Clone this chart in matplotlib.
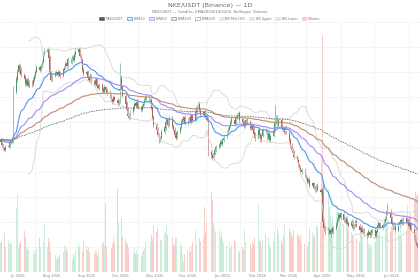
import numpy as np
import pandas as pd
import matplotlib
matplotlib.use("Agg")
import matplotlib.pyplot as plt
import matplotlib.dates as mdates
import matplotlib.patches as mpatches

# daily closes (USDT), one per business day from 2025-06-16
closes = [
    62.0, 61.0, 60.4, 60.0, 60.6, 60.8, 61.4, 61.8, 62.0, 71.6,
    74.0, 75.6, 76.8, 76.0, 75.0, 74.4, 73.2, 74.0, 72.8, 73.6,
    73.0, 74.0, 74.8, 75.6, 76.4, 76.0, 76.8, 77.6, 79.0, 79.6,
    80.0, 78.4, 75.6, 74.0, 74.8, 75.2, 75.6, 75.0, 75.4, 74.8,
    76.0, 76.4, 77.2, 76.8, 78.0, 77.6, 78.4, 78.0, 79.0, 79.6,
    80.0, 78.8, 78.0, 76.0, 75.2, 75.6, 74.4, 74.0, 74.8, 73.6,
    73.2, 74.0, 72.8, 72.4, 73.0, 72.0, 71.6, 72.4, 72.0, 71.4,
    70.8, 70.0, 69.6, 70.4, 70.0, 69.4, 69.8, 74.4, 72.4, 70.8,
    69.2, 68.0, 66.8, 66.4, 67.6, 68.4, 69.2, 68.8, 69.6, 68.4,
    68.0, 68.8, 69.2, 70.0, 70.4, 69.6, 70.0, 68.4, 66.4, 65.0,
    64.0, 63.0, 62.0, 62.4, 63.6, 64.4, 65.6, 66.0, 65.0, 66.4,
    64.8, 64.0, 63.0, 62.4, 63.6, 64.4, 65.6, 66.0, 66.4, 65.2,
    66.0, 66.4, 65.6, 66.8, 66.0, 67.6, 68.4, 69.2, 68.0, 67.0,
    67.6, 66.8, 66.4, 66.0, 59.6, 59.0, 58.4, 59.2, 60.0, 60.6,
    61.0, 61.6, 61.2, 62.0, 62.4, 63.6, 64.0, 64.8, 65.6, 66.0,
    65.2, 66.4, 66.8, 67.2, 66.0, 65.6, 64.8, 65.2, 66.0, 65.6,
    64.4, 64.8, 64.0, 63.2, 62.4, 64.0, 63.0, 62.0, 62.8, 64.0,
    63.6, 62.4, 63.2, 62.0, 62.8, 64.0, 65.6, 66.4, 65.0, 66.0,
    64.4, 64.0, 63.6, 64.4, 63.4, 62.0, 60.8, 60.0, 59.6, 58.6,
    58.0, 57.0, 56.4, 55.6, 56.0, 54.8, 54.4, 53.6, 54.0, 52.8,
    53.2, 52.4, 52.0, 52.8, 52.0, 51.6, 52.0, 45.6, 44.4, 43.6,
    44.0, 43.2, 44.0, 43.6, 44.4, 45.0, 46.0, 47.0, 46.4, 47.2,
    46.0, 45.6, 46.4, 45.2, 44.8, 45.6, 44.4, 45.0, 45.6, 44.8,
    44.0, 44.4, 43.6, 44.0, 43.2, 42.8, 43.6, 43.0, 43.4, 44.0,
    42.8, 43.6, 44.8, 45.2, 44.4, 45.0, 45.6, 46.4, 47.2, 47.6,
    46.4, 45.2, 44.4, 44.8, 44.0, 45.0, 45.6, 46.0, 45.2, 46.4,
    45.6, 46.0, 44.8, 45.2, 44.0, 42.8, 42.0, 41.2, 40.8,
]
first_open = 61.6

# wick lengths above / below the body, tenths of USDT
wick_up = [
    3, 4, 3, 2, 4, 3, 3, 4, 2, 12, 8, 6, 5, 4, 5, 3, 6, 4, 5, 4,
    4, 5, 3, 4, 5, 3, 6, 4, 6, 8, 6, 4, 5, 3, 4, 5, 3, 4, 5, 3,
    4, 3, 5, 4, 6, 3, 4, 5, 6, 7, 5, 4, 3, 4, 5, 3, 4, 3, 5, 4,
    3, 4, 5, 3, 4, 3, 5, 4, 3, 4, 4, 3, 4, 5, 3, 4, 3, 30, 6, 4,
    3, 4, 3, 5, 4, 3, 4, 3, 5, 4, 3, 4, 3, 4, 5, 3, 4, 3, 4, 5,
    4, 5, 3, 4, 6, 3, 5, 4, 3, 4, 3, 4, 5, 3, 4, 3, 5, 4, 3, 4,
    4, 3, 5, 4, 3, 5, 4, 6, 3, 4, 3, 4, 3, 5, 8, 4, 3, 4, 5, 3,
    4, 3, 5, 4, 3, 4, 5, 3, 4, 5, 3, 4, 5, 3, 4, 3, 4, 5, 3, 4,
    4, 3, 4, 5, 3, 4, 3, 4, 5, 3, 4, 5, 3, 4, 3, 5, 34, 6, 4, 3,
    4, 3, 5, 3, 4, 3, 4, 5, 3, 4, 3, 4, 3, 5, 4, 3, 4, 3, 4, 5,
    3, 4, 3, 4, 5, 3, 4, 12, 6, 4, 5, 3, 4, 5, 3, 6, 4, 5, 3, 4,
    4, 5, 3, 4, 3, 5, 4, 3, 5, 4, 3, 4, 5, 3, 4, 3, 5, 4, 3, 4,
    4, 3, 4, 5, 3, 4, 5, 4, 6, 18, 5, 4, 3, 4, 3, 5, 4, 3, 4, 5,
    4, 3, 5, 4, 3, 4, 3, 4, 3,
]
wick_dn = [
    3, 4, 5, 3, 4, 3, 4, 3, 4, 6, 5, 4, 3, 5, 4, 3, 4, 5, 3, 4,
    4, 3, 5, 4, 3, 4, 3, 5, 4, 3, 4, 6, 5, 3, 4, 3, 5, 4, 3, 4,
    3, 4, 3, 5, 4, 3, 4, 3, 5, 4, 5, 4, 3, 4, 6, 3, 4, 5, 3, 4,
    3, 5, 4, 3, 4, 5, 3, 4, 3, 5, 4, 3, 5, 4, 3, 4, 5, 4, 6, 3,
    4, 5, 3, 4, 3, 5, 4, 3, 4, 3, 5, 3, 4, 3, 4, 3, 5, 4, 6, 5,
    4, 5, 6, 4, 3, 4, 5, 3, 4, 3, 4, 3, 5, 4, 3, 4, 3, 5, 4, 3,
    3, 4, 3, 5, 4, 3, 4, 3, 5, 4, 4, 3, 4, 3, 8, 6, 5, 4, 3, 4,
    5, 4, 3, 4, 5, 3, 4, 3, 5, 4, 3, 4, 3, 5, 4, 3, 4, 5, 3, 4,
    4, 5, 3, 4, 6, 3, 4, 5, 4, 3, 3, 4, 5, 3, 4, 3, 4, 5, 3, 4,
    4, 3, 4, 5, 3, 4, 5, 6, 4, 5, 4, 5, 3, 4, 5, 3, 4, 5, 3, 4,
    4, 3, 5, 4, 3, 4, 5, 8, 6, 5, 5, 4, 6, 3, 4, 5, 3, 4, 3, 5,
    4, 3, 5, 4, 3, 4, 5, 3, 4, 3, 5, 4, 3, 4, 5, 4, 3, 5, 4, 3,
    4, 5, 3, 4, 3, 5, 4, 3, 4, 3, 3, 4, 5, 3, 4, 3, 4, 5, 3, 4,
    4, 3, 4, 5, 3, 4, 5, 4, 5,
]

# daily volume, millions
volumes = [
    5.8, 6.0, 6.0, 7.8, 5.0, 6.4, 5.6, 6.0, 5.6, 48.8,
    12.8, 15.4, 4.8, 5.6, 6.0, 8.2, 7.0, 5.0, 4.4, 5.0,
    4.0, 4.4, 3.6, 4.4, 5.0, 6.8, 5.0, 4.4, 6.0, 9.4,
    5.0, 6.8, 6.0, 4.0, 3.0, 3.4, 2.4, 3.0, 2.8, 3.4,
    4.0, 5.4, 4.4, 5.0, 4.0, 3.0, 2.4, 3.6, 3.0, 4.4,
    5.6, 5.0, 6.0, 4.0, 6.2, 5.2, 4.4, 5.0, 4.0, 4.8,
    3.6, 4.4, 4.0, 3.2, 4.4, 5.6, 6.0, 5.2, 13.8, 5.2,
    6.0, 4.8, 5.6, 7.2, 6.0, 16.8, 10.0, 24.0, 10.8, 7.0,
    6.6, 6.0, 5.6, 4.8, 4.4, 4.0, 4.8, 3.6, 4.4, 3.6,
    3.0, 4.0, 4.4, 4.8, 5.8, 5.2, 6.0, 7.4, 6.6, 9.4,
    8.0, 8.8, 5.4, 6.4, 6.4, 7.6, 8.0, 9.2, 7.4, 6.0,
    6.8, 5.6, 5.2, 6.8, 6.8, 5.8, 5.2, 3.6, 2.0, 3.6,
    4.4, 4.8, 4.0, 5.2, 6.0, 8.4, 5.6, 6.6, 6.8, 6.0,
    7.2, 13.0, 8.0, 10.0, 45.0, 16.0, 14.4, 10.0, 9.0, 8.0,
    8.4, 7.0, 8.0, 6.6, 6.0, 5.2, 5.0, 6.0, 4.8, 5.6,
    6.4, 6.0, 5.4, 4.4, 4.0, 5.0, 4.4, 8.4, 6.0, 5.2,
    5.6, 4.8, 6.0, 5.6, 7.0, 13.8, 6.6, 6.0, 5.0, 6.4,
    7.6, 8.0, 7.0, 5.4, 4.8, 6.0, 8.0, 13.8, 9.0, 7.6,
    6.4, 5.6, 7.2, 9.4, 8.4, 8.8, 8.0, 7.6, 7.0, 8.4,
    7.6, 7.2, 6.6, 7.4, 6.0, 5.6, 6.4, 5.2, 6.0, 8.6,
    8.0, 7.0, 7.6, 9.4, 9.0, 10.0, 23.0, 47.4, 16.2, 12.4,
    16.6, 13.0, 11.4, 10.0, 11.0, 12.0, 13.4, 9.0, 11.6, 10.0,
    9.6, 11.0, 10.4, 9.0, 8.4, 8.0, 7.4, 7.0, 7.4, 6.8,
    6.0, 8.0, 8.8, 7.2, 6.0, 7.0, 5.6, 5.0, 5.6, 4.8,
    6.0, 7.2, 9.4, 7.4, 8.0, 6.8, 8.8, 9.6, 11.6, 10.6,
    8.0, 9.0, 10.0, 8.4, 8.0, 9.2, 7.4, 8.8, 7.0, 8.0,
    8.4, 13.4, 11.0, 10.0, 11.6, 14.4, 16.0, 15.2, 15.6,
]

legend_labels = ["NKE/USDT", "EMA20", "EMA50", "EMA100", "EMA200",
                 "BB Mid (20)", "BB Upper", "BB Lower", "Volume"]

UP, DOWN = "#4f9a6c", "#b0605a"
VOL_UP, VOL_DOWN = "#cdeedb", "#f8cdca"
C_EMA20, C_EMA50, C_EMA100, C_EMA200 = "#4b97f0", "#a88af5", "#c28c6c", "#6f6f6f"
C_BB = "#d6d6d6"

dates = pd.bdate_range("2025-06-16", periods=len(closes))
close = pd.Series(closes, index=dates)
opens = close.shift(1).fillna(first_open)
body_top = np.maximum(opens.values, close.values)
body_bot = np.minimum(opens.values, close.values)
highs = body_top + np.array(wick_up) / 10
lows = body_bot - np.array(wick_dn) / 10
up = close.values >= opens.values

ema = {n: close.ewm(span=n, adjust=False).mean() for n in (20, 50, 100, 200)}
bb_mid = close.rolling(20).mean()
bb_std = close.rolling(20).std(ddof=0)
bb_up = bb_mid + 2 * bb_std
bb_lo = bb_mid - 2 * bb_std

x = mdates.date2num(dates)
jul1 = mdates.date2num(pd.Timestamp("2025-07-01"))

fig = plt.figure(figsize=(4.2, 2.8), dpi=100)
ax_v = fig.add_axes([0, 8 / 280, 1, 250 / 280])
ax_p = ax_v.twinx()
ax_p.patch.set_visible(False)

# volume underneath
ax_v.bar(x, volumes, width=0.8, color=np.where(up, VOL_UP, VOL_DOWN), linewidth=0)
ax_v.set_ylim(0, 50)
ax_v.set_yticks(np.arange(0, 51, 5))
ax_v.grid(axis="y", color="#f1f1f1", lw=0.5)
ax_v.set_axisbelow(True)

# candles
cols = np.where(up, UP, DOWN)
ax_p.vlines(x, lows, highs, colors=cols, lw=0.4)
ax_p.bar(x, np.maximum(body_top - body_bot, 0.12), bottom=body_bot,
         width=0.75, color=cols, linewidth=0)

ax_p.plot(x, bb_up, color=C_BB, lw=0.6)
ax_p.plot(x, bb_lo, color=C_BB, lw=0.6)
ax_p.plot(x, bb_mid, color="#ececec", lw=0.5)
ax_p.plot(x, ema[20], color=C_EMA20, lw=0.8)
ax_p.plot(x, ema[50], color=C_EMA50, lw=0.8)
ax_p.plot(x, ema[100], color=C_EMA100, lw=0.8)
ax_p.plot(x, ema[200], color=C_EMA200, lw=0.6, ls=(0, (2, 1.2)))
ax_p.set_ylim(35.5, 85.5)

for a in (ax_v, ax_p):
    a.set_xlim(jul1 - 15.7, jul1 + 361.3)
    for s in a.spines.values():
        s.set_visible(False)
    a.tick_params(axis="y", left=False, right=False, labelleft=False, labelright=False)

months = pd.date_range("2025-07-01", "2026-06-01", freq="MS")
ax_v.set_xticks(mdates.date2num(months))
ax_v.set_xticklabels([m.strftime("%b %Y") for m in months])
ax_v.set_xticks(mdates.date2num(months + pd.Timedelta(days=16)), minor=True)
ax_v.grid(axis="x", which="minor", color="#f1f1f1", lw=0.5)
ax_v.tick_params(axis="x", which="both", length=0, pad=1.5, labelsize=2.6, labelcolor="#8a8a8a")

fig.text(0.5, 1 - 5.5 / 280, "NKE/USDT (Binance) — 1D", ha="center", va="center",
         fontsize=4.6, color="#666666")
fig.text(0.5, 1 - 12.3 / 280, "NKE/USDT — Candles, EMA20/50/100/200, Bollinger, Volume",
         ha="center", va="center", fontsize=2.7, color="#777777")

handles = [
    mpatches.Patch(facecolor="#555555", edgecolor="#555555", lw=0.4),
    mpatches.Patch(facecolor="#dbeafc", edgecolor=C_EMA20, lw=0.5),
    mpatches.Patch(facecolor="#ece4fd", edgecolor=C_EMA50, lw=0.5),
    mpatches.Patch(facecolor="#f3e6dd", edgecolor=C_EMA100, lw=0.5),
    mpatches.Patch(facecolor="white", edgecolor=C_EMA200, lw=0.5, ls=(0, (1, 0.6))),
    mpatches.Patch(facecolor="#e6e6e6", edgecolor="#dddddd", lw=0.4),
    mpatches.Patch(facecolor="#e6e6e6", edgecolor="#dddddd", lw=0.4),
    mpatches.Patch(facecolor="#e6e6e6", edgecolor="#dddddd", lw=0.4),
    mpatches.Patch(facecolor="#f9d0d0", edgecolor="#f4b4b4", lw=0.4),
]
leg = fig.legend(handles, legend_labels, loc="center", bbox_to_anchor=(0.5, 1 - 18.7 / 280),
                 ncol=9, frameon=False, fontsize=2.4, handlelength=1.4, handleheight=0.9,
                 handletextpad=0.5, columnspacing=1.2, borderpad=0)
for t in leg.get_texts():
    t.set_color("#777777")

fig.savefig("out.png", dpi=100, facecolor="white")
